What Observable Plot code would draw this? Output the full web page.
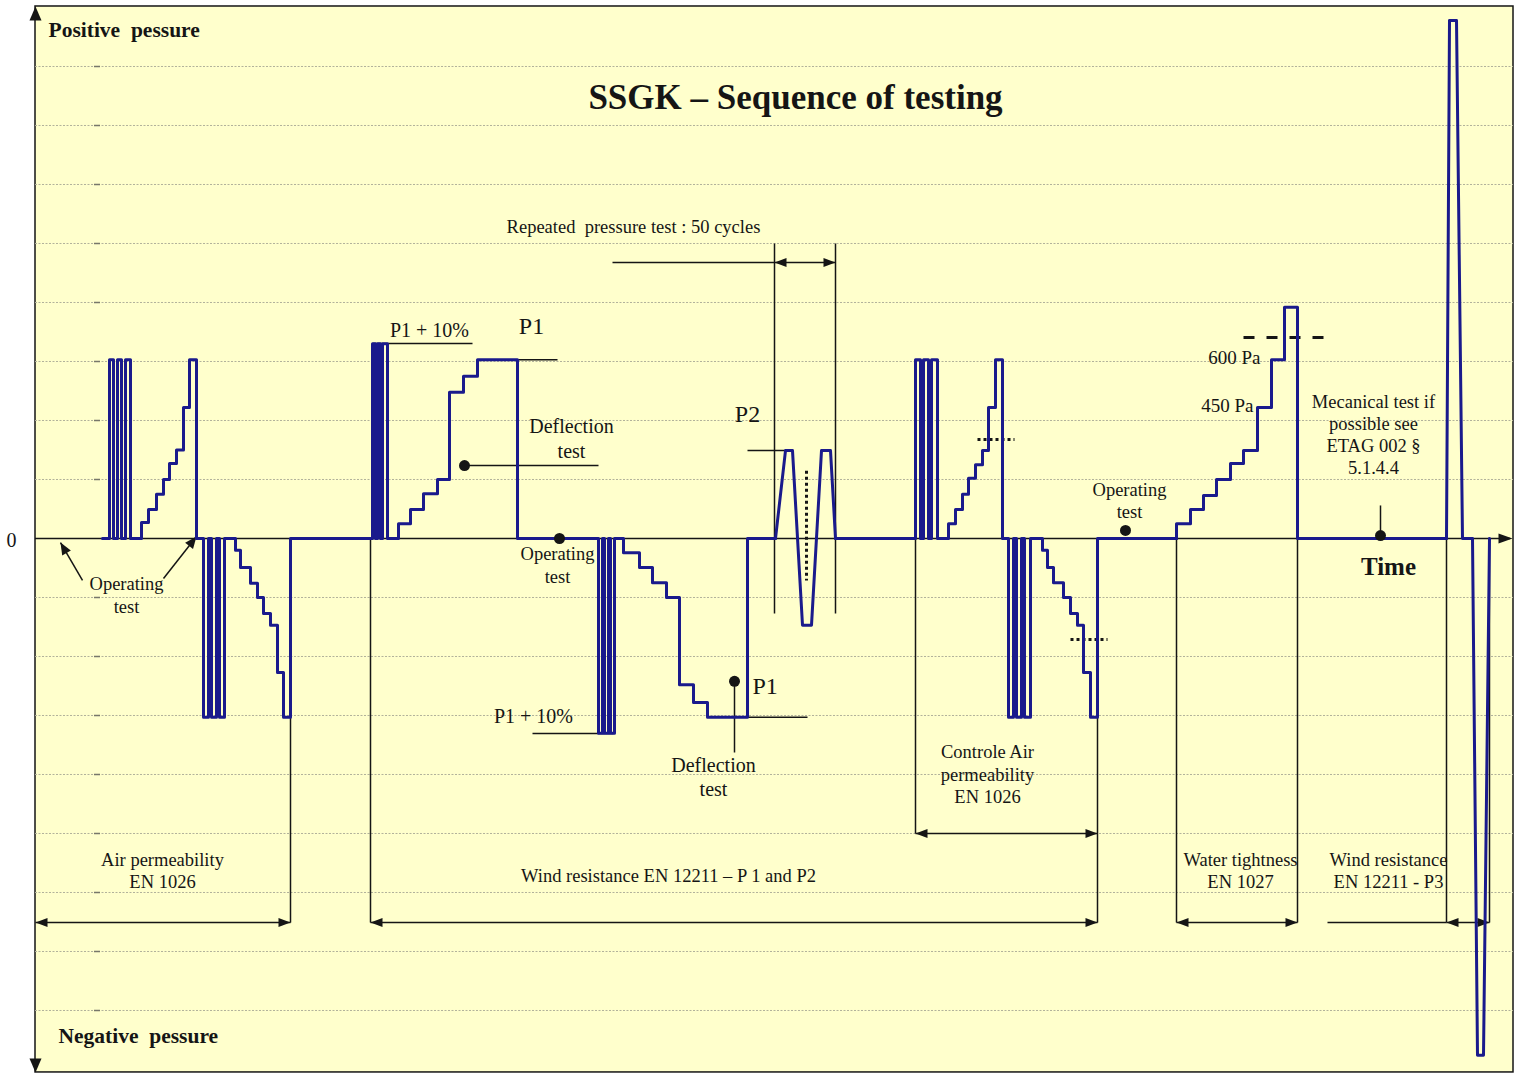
<!DOCTYPE html>
<html>
<head>
<meta charset="utf-8">
<script src="https://cdn.jsdelivr.net/npm/d3@7"></script>
<script src="https://cdn.jsdelivr.net/npm/@observablehq/plot@0.6"></script>
<style>
  body { margin: 0; background: #ffffff; }
</style>
</head>
<body>
<div id="chart"></div>
<script>
// ---------- DATA (time in arbitrary units, pressure in grid steps) ----------
const frameTime = [35, 1513];
const framePressure = [-9.05, 9.017];
const gridLevels = [-8, -7, -6, -5, -4, -3, -2, -1, 1, 2, 3, 4, 5, 6, 7, 8];

// Stepped pressure sequences (step-after: value holds until next time)
const airPermeability = [
  [102, 0], [109, 3.03], [113, 0], [117, 3.03], [121, 0], [125, 3.03], [130, 0],
  [141, 0.27], [148, 0.49], [156, 0.75], [163, 1], [169, 1.27], [176, 1.5], [183, 2.22], [189, 3.03], [196, 0],
  [203, -3.03], [208, 0], [211, -3.03], [216, 0], [219, -3.03], [224, 0],
  [235, -0.2], [240, -0.49], [250, -0.76], [257, -1], [263, -1.27], [270, -1.47], [277, -2.27], [283, -3.03], [290, 0], [370, 0]
];
const windP1 = [
  [370, 0], [372, 3.3], [375, 0], [377, 3.3], [380, 0], [382, 3.3], [387, 0],
  [398, 0.25], [410, 0.49], [423, 0.76], [437, 1], [449, 2.48], [463, 2.75], [477, 3.03], [517, 0],
  [598, -3.3], [602, 0], [604, -3.3], [608, 0], [610, -3.3], [614, 0],
  [623, -0.24], [639, -0.49], [652, -0.75], [666, -1], [679, -2.48], [693, -2.78], [707, -3.03], [747, 0], [775, 0]
];
const controlAir = [
  [835, 0], [915, 3.03], [920, 0], [923, 3.03], [928, 0], [931, 3.03], [937, 0],
  [948, 0.25], [955, 0.49], [962, 0.75], [968, 1.02], [975, 1.25], [982, 1.49], [988, 2.22], [995, 3.03], [1002, 0],
  [1008, -3.03], [1013, 0], [1016, -3.03], [1021, 0], [1024, -3.03], [1030, 0],
  [1042, -0.2], [1047, -0.49], [1053, -0.75], [1063, -1], [1070, -1.27], [1077, -1.47], [1083, -2.27], [1090, -3.03], [1097, 0], [1176, 0]
];
const waterTightness = [
  [1176, 0], [1176, 0.25], [1190, 0.49], [1203, 0.73], [1216, 1], [1230, 1.27], [1243, 1.49],
  [1257, 2.22], [1271, 3.03], [1284, 3.92], [1297, 0], [1446, 0]
];
// Sloped sequences (linear)
const cyclesP2 = [[775, 0], [785, 1.49], [792, 1.49], [802, -1.47], [811, -1.47], [821, 1.49], [830, 1.49], [835, 0]];
const windP3 = [[1446, 0], [1449, 8.78], [1456, 8.78], [1462, 0], [1472, 0], [1477, -8.76], [1483, -8.76], [1489, 0]];

// Bracket edges (vertical guides)
const bracketEdges = [
  {t: 290, p1: -3.03, p2: -6.51}, {t: 370, p1: 0, p2: -6.51}, {t: 1097, p1: -3.03, p2: -6.51},
  {t: 915, p1: 0, p2: -5.0}, {t: 1176, p1: 0, p2: -6.51}, {t: 1297, p1: 0, p2: -6.51},
  {t: 1446, p1: 0, p2: -6.51}, {t: 1489, p1: 0, p2: -6.51},
  {t: 774, p1: 5.0, p2: -1.27}, {t: 835, p1: 5.0, p2: -1.27}, {t: 734, p1: -2.42, p2: -3.627},
  {t: 1380, p1: 0.05, p2: 0.56}
];
// Level markers (horizontal guides)
const levelMarks = [
  {t1: 372, t2: 472, p: 3.305}, {t1: 517, t2: 557, p: 3.03}, {t1: 464, t2: 598, p: 1.237},
  {t1: 747, t2: 785, p: 1.49}, {t1: 532, t2: 613, p: -3.305}, {t1: 707, t2: 807, p: -3.03},
  {t1: 612, t2: 774, p: 4.678}, {t1: 1327, t2: 1446, p: -6.51}
];
// Double-headed spans
const spans = [
  {t1: 35, t2: 290, p: -6.51}, {t1: 370, t2: 1097, p: -6.51}, {t1: 1176, t2: 1297, p: -6.51},
  {t1: 1446, t2: 1489, p: -6.51}, {t1: 915, t2: 1097, p: -5.0}, {t1: 774, t2: 835, p: 4.678}
];
// Dotted / dashed markers
const dottedMarks = [
  {t1: 806, p1: 1.15, t2: 806, p2: -0.71},
  {t1: 977, p1: 1.678, t2: 1014, p2: 1.678},
  {t1: 1070, p1: -1.712, t2: 1107, p2: -1.712}
];
const dashedMarks = [{t1: 1243, t2: 1326, p: 3.407}];
// Test points
const testPoints = [{t: 464, p: 1.237}, {t: 559, p: 0}, {t: 734, p: -2.42}, {t: 1125, p: 0.136}, {t: 1380, p: 0.05}];
// Operating-test pointers
const pointers = [{t1: 82, p1: -0.71, t2: 60, p2: -0.068}, {t1: 163, p1: -0.678, t2: 196, p2: 0.034}];

// Labels
const headings = [
  {t: 48, p: 8.61, text: "Positive  pessure"},
  {t: 58, p: -8.44, text: "Negative  pessure"}
];
const titleLabel = [{t: 795, p: 7.475, text: "SSGK – Sequence of testing"}];
const timeLabel = [{t: 1388, p: -0.49, text: "Time"}];
const zeroLabel = [{t: 11, p: -0.034, text: "0"}];
const bigMarksCentered = [
  {t: 531, p: 3.593, text: "P1"},
  {t: 747, p: 2.10, text: "P2"}
];
const bigMarksLeft = [{t: 752, p: -2.508, text: "P1"}];
const notes = [
  {t: 429, p: 3.525, text: "P1 + 10%"},
  {t: 533, p: -3.017, text: "P1 + 10%"},
  {t: 571, p: 1.898, text: "Deflection"}, {t: 571, p: 1.475, text: "test"},
  {t: 713, p: -3.847, text: "Deflection"}, {t: 713, p: -4.254, text: "test"}
];
const smallNotes = [
  {t: 126, p: -0.78, text: "Operating"}, {t: 126, p: -1.17, text: "test"},
  {t: 557, p: -0.27, text: "Operating"}, {t: 557, p: -0.66, text: "test"},
  {t: 1129, p: 0.814, text: "Operating"}, {t: 1129, p: 0.44, text: "test"},
  {t: 633, p: 5.27, text: "Repeated  pressure test : 50 cycles"},
  {t: 987, p: -3.627, text: "Controle Air"}, {t: 987, p: -4.017, text: "permeability"}, {t: 987, p: -4.39, text: "EN 1026"},
  {t: 1373, p: 2.305, text: "Mecanical test if"}, {t: 1373, p: 1.932, text: "possible see"},
  {t: 1373, p: 1.559, text: "ETAG 002 §"}, {t: 1373, p: 1.186, text: "5.1.4.4"},
  {t: 162, p: -5.458, text: "Air permeability"}, {t: 162, p: -5.83, text: "EN 1026"},
  {t: 668, p: -5.729, text: "Wind resistance EN 12211 – P 1 and P2"},
  {t: 1240, p: -5.458, text: "Water tightness"}, {t: 1240, p: -5.83, text: "EN 1027"},
  {t: 1388, p: -5.458, text: "Wind resistance"}, {t: 1388, p: -5.83, text: "EN 12211 - P3"}
];
const paLabels = [
  {t: 1260, p: 3.068, text: "600 Pa"},
  {t: 1253, p: 2.254, text: "450 Pa"}
];

// ---------- RENDER ----------
const W = 1517, H = 1081;
const yDomain = [-9.2034, 9.1186];
const pxPerP = H / (yDomain[1] - yDomain[0]);
const pxPerT = W / 1517;

function head(angle, L = 12, Hw = 4.5) {
  const c = Math.cos(angle), s = Math.sin(angle);
  return {
    draw(ctx) {
      ctx.moveTo(0, 0);
      ctx.lineTo(-L * c - Hw * s, -L * s + Hw * c);
      ctx.lineTo(-L * c + Hw * s, -L * s - Hw * c);
      ctx.closePath();
    }
  };
}
const serif = "Liberation Serif, Times New Roman, serif";
const ink = "#151515";
const blue = "#1a1a8c";
const X = d => d[0], Y = d => d[1];

const leftHeads = spans.map(s => ({t: s.t1, p: s.p}));
const rightHeads = spans.map(s => ({t: s.t2, p: s.p}));
const pointerAngle = d => Math.atan2(-(d.p2 - d.p1) * pxPerP, (d.t2 - d.t1) * pxPerT);

const chart = Plot.plot({
  width: W, height: H, margin: 0,
  x: {domain: [0, 1517], axis: null},
  y: {domain: yDomain, axis: null},
  style: {background: "#ffffff", fontFamily: serif},
  marks: [
    // frame
    Plot.rect([0], {x1: frameTime[0], x2: frameTime[1], y1: framePressure[0], y2: framePressure[1], fill: "#ffffcc", stroke: ink, strokeWidth: 1.5}),
    // grid
    Plot.ruleY(gridLevels, {x1: frameTime[0], x2: frameTime[1], stroke: "#b2b29a", strokeWidth: 1, strokeDasharray: "2,1.5"}),
    Plot.ruleY(gridLevels, {x1: 94, x2: 100, stroke: "#77776a", strokeWidth: 1.5}),
    // zero axis
    Plot.ruleY([0], {x1: frameTime[0], x2: 1510, stroke: ink, strokeWidth: 1.5}),
    Plot.dot([{t: 1512, p: 0}], {x: "t", y: "p", symbol: head(0, 14, 5), fill: ink, stroke: "none"}),
    Plot.dot([{t: frameTime[0], p: framePressure[1]}], {x: "t", y: "p", symbol: head(-Math.PI / 2, 14, 6), fill: ink, stroke: "none"}),
    Plot.dot([{t: frameTime[0], p: framePressure[0]}], {x: "t", y: "p", symbol: head(Math.PI / 2, 14, 6), fill: ink, stroke: "none"}),
    // guides
    Plot.link(bracketEdges, {x1: "t", x2: "t", y1: "p1", y2: "p2", stroke: ink, strokeWidth: 1.5}),
    Plot.link(levelMarks, {x1: "t1", x2: "t2", y1: "p", y2: "p", stroke: ink, strokeWidth: 1.5}),
    Plot.link(spans, {x1: "t1", x2: "t2", y1: "p", y2: "p", stroke: ink, strokeWidth: 1.5}),
    Plot.dot(leftHeads, {x: "t", y: "p", symbol: head(Math.PI), fill: ink, stroke: "none"}),
    Plot.dot(rightHeads, {x: "t", y: "p", symbol: head(0), fill: ink, stroke: "none"}),
    Plot.link(dottedMarks, {x1: "t1", x2: "t2", y1: "p1", y2: "p2", stroke: ink, strokeWidth: 3, strokeDasharray: "3,3"}),
    Plot.link(dashedMarks, {x1: "t1", x2: "t2", y1: "p", y2: "p", stroke: ink, strokeWidth: 3, strokeDasharray: "11,12"}),
    // operating pointers
    Plot.link(pointers, {x1: "t1", x2: "t2", y1: "p1", y2: "p2", stroke: ink, strokeWidth: 1.5}),
    Plot.dot([pointers[0]], {x: "t2", y: "p2", symbol: head(pointerAngle(pointers[0]), 12, 5), fill: ink, stroke: "none"}),
    Plot.dot([pointers[1]], {x: "t2", y: "p2", symbol: head(pointerAngle(pointers[1]), 12, 5), fill: ink, stroke: "none"}),
    // pressure sequence
    Plot.line(airPermeability, {x: X, y: Y, curve: "step-after", stroke: blue, strokeWidth: 3}),
    Plot.line(windP1, {x: X, y: Y, curve: "step-after", stroke: blue, strokeWidth: 3}),
    Plot.line(cyclesP2, {x: X, y: Y, curve: "linear", stroke: blue, strokeWidth: 3}),
    Plot.line(controlAir, {x: X, y: Y, curve: "step-after", stroke: blue, strokeWidth: 3}),
    Plot.line(waterTightness, {x: X, y: Y, curve: "step-after", stroke: blue, strokeWidth: 3}),
    Plot.line(windP3, {x: X, y: Y, curve: "linear", stroke: blue, strokeWidth: 3}),
    // test points
    Plot.dot(testPoints, {x: "t", y: "p", r: 5.5, fill: ink, stroke: "none"}),
    // texts
    Plot.text(titleLabel, {x: "t", y: "p", text: "text", fontSize: 35, fontWeight: "bold", fill: ink, fontFamily: serif}),
    Plot.text(headings, {x: "t", y: "p", text: "text", fontSize: 21.5, fontWeight: "bold", textAnchor: "start", fill: ink, fontFamily: serif}),
    Plot.text(timeLabel, {x: "t", y: "p", text: "text", fontSize: 25, fontWeight: "bold", fill: ink, fontFamily: serif}),
    Plot.text(zeroLabel, {x: "t", y: "p", text: "text", fontSize: 20, fill: ink, fontFamily: serif}),
    Plot.text(bigMarksCentered, {x: "t", y: "p", text: "text", fontSize: 24, fill: ink, fontFamily: serif}),
    Plot.text(bigMarksLeft, {x: "t", y: "p", text: "text", fontSize: 24, textAnchor: "start", fill: ink, fontFamily: serif}),
    Plot.text(notes, {x: "t", y: "p", text: "text", fontSize: 20, fill: ink, fontFamily: serif}),
    Plot.text(smallNotes, {x: "t", y: "p", text: "text", fontSize: 18.5, fill: ink, fontFamily: serif, letterSpacing: "-0.3px"}),
    Plot.text(paLabels, {x: "t", y: "p", text: "text", fontSize: 19, textAnchor: "end", fill: ink, fontFamily: serif, letterSpacing: "-0.3px"})
  ]
});
document.getElementById("chart").appendChild(chart);
</script>
</body>
</html>
